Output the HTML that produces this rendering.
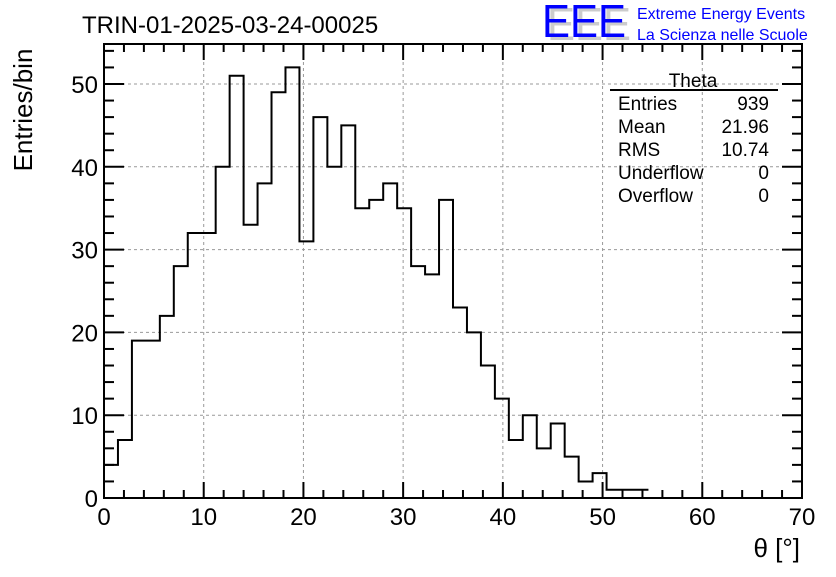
<!DOCTYPE html>
<html><head><meta charset="utf-8"><style>
body{margin:0;background:#fff;width:836px;height:572px;overflow:hidden;font-family:"Liberation Sans",sans-serif}
</style></head><body>
<svg width="836" height="572" font-family="Liberation Sans, sans-serif">
<rect width="836" height="572" fill="#fff"/>
<text x="82" y="33" font-size="24">TRIN-01-2025-03-24-00025</text>
<g>
<text x="547" y="40" font-size="46" fill="#ccc" textLength="84" lengthAdjust="spacingAndGlyphs">EEE</text>
<text x="542" y="37" font-size="46" fill="#0000ff" textLength="84" lengthAdjust="spacingAndGlyphs">EEE</text>
<text x="637" y="19" font-size="16" fill="#0000ff">Extreme Energy Events</text>
<text x="637" y="40" font-size="16" fill="#0000ff">La Scienza nelle Scuole</text>
</g>
<g id="grid"></g>
<g id="ticks"></g>
<path id="hist" fill="none" stroke="#000" stroke-width="2"/>
<rect x="104" y="44" width="698" height="454" fill="none" stroke="#000" stroke-width="2"/>
<g id="labels" font-size="24"></g>
<text x="32" y="110" font-size="26" transform="rotate(-90 32 110)" text-anchor="middle">Entries/bin</text>
<text x="800" y="557" font-size="26" text-anchor="end">θ [°]</text>
<g font-size="19">
<text x="693" y="87" text-anchor="middle">Theta</text>
<line x1="610" y1="90" x2="778" y2="90" stroke="#000" stroke-width="2"/>
<text x="618" y="110">Entries</text><text x="769" y="110" text-anchor="end">939</text>
<text x="618" y="133">Mean</text><text x="769" y="133" text-anchor="end">21.96</text>
<text x="618" y="156">RMS</text><text x="769" y="156" text-anchor="end">10.74</text>
<text x="618" y="179">Underflow</text><text x="769" y="179" text-anchor="end">0</text>
<text x="618" y="202">Overflow</text><text x="769" y="202" text-anchor="end">0</text>
</g>
</svg>
<script>
const counts=[4,7,19,19,22,28,32,32,40,51,33,38,49,52,31,46,40,45,35,36,38,35,28,27,36,23,20,16,12,7,10,6,9,5,2,3,1,1,1,0,0,0,0,0,0,0,0,0,0,0];
const xTicks=[0,10,20,30,40,50,60,70];
const yTicks=[0,10,20,30,40,50];
const xMin=0,xMax=70,yMin=0,yMax=54.83;
const L=104,R=802,T=44,B=498;
const X=v=>L+(v-xMin)/(xMax-xMin)*(R-L);
const Y=v=>B-(v-yMin)/(yMax-yMin)*(B-T);
const NS='http://www.w3.org/2000/svg';
function mk(tag,attrs,parent){const e=document.createElementNS(NS,tag);for(const k in attrs)e.setAttribute(k,attrs[k]);parent.appendChild(e);return e;}
const bw=(xMax-xMin)/counts.length;
let last=0;counts.forEach((c,i)=>{if(c>0)last=i;});
let d='M'+X(0)+','+Y(0);
counts.forEach((c,i)=>{if(i>last)return;d+=' L'+X(i*bw)+','+Y(c)+' L'+X((i+1)*bw)+','+Y(c);});
document.getElementById('hist').setAttribute('d',d);
const grid=document.getElementById('grid'),ticks=document.getElementById('ticks'),labels=document.getElementById('labels');
xTicks.forEach(v=>{
 if(v>xMin&&v<xMax){const g=mk('line',{x1:X(v),x2:X(v),y1:T,y2:B,stroke:'#999','stroke-dasharray':'3,3'},grid);
 
 }
 const t=mk('text',{x:X(v),y:B+27,'text-anchor':'middle'},labels);t.textContent=v;
 
 
});
yTicks.forEach(v=>{
 if(v>yMin){const g=mk('line',{x1:L,x2:R,y1:Y(v),y2:Y(v),stroke:'#999','stroke-dasharray':'3,3'},grid);
 
 }
 const t=mk('text',{x:L-6,y:Y(v)+9,'text-anchor':'end'},labels);t.textContent=v;
 
 
});
for(let v=0;v<=70;v+=2){const len=v%10===0?16:8;
 mk('line',{x1:X(v),x2:X(v),y1:B,y2:B-len,stroke:'#000','stroke-width':2},ticks);
 mk('line',{x1:X(v),x2:X(v),y1:T,y2:T+len,stroke:'#000','stroke-width':2},ticks);}
for(let v=0;v<=54;v+=2){const len=v%10===0?20:10;
 mk('line',{x1:L,x2:L+len,y1:Y(v),y2:Y(v),stroke:'#000','stroke-width':2},ticks);
 mk('line',{x1:R,x2:R-len,y1:Y(v),y2:Y(v),stroke:'#000','stroke-width':2},ticks);}
</script>
</body></html>
